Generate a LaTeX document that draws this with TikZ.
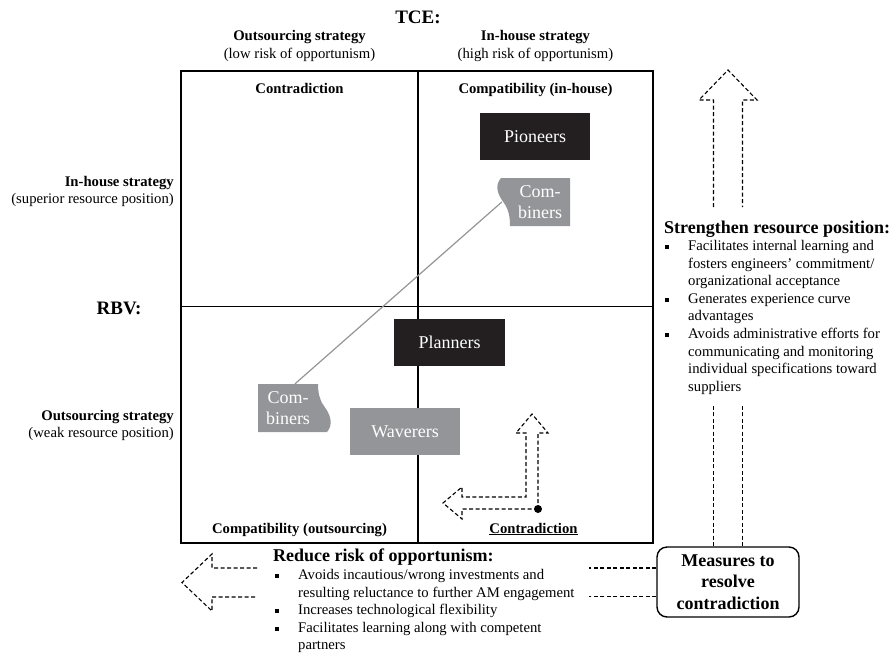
\documentclass[tikz,border=0pt]{standalone}
\usepackage{fontspec}
\setmainfont{Liberation Serif}
\usetikzlibrary{positioning}
\definecolor{boxblack}{HTML}{231F20}
\definecolor{boxgrey}{HTML}{939598}
\newcommand{\bul}{\llap{\rule[1.5pt]{4pt}{4pt}\hspace{19pt}}}
\tikzset{%
  % Specifications for style of nodes:
          txt/.style = {font=\fontsize{14.7}{17.6}\selectfont, inner sep=0pt,
                        align=center},
         txtb/.style = {txt, font=\fontsize{14.7}{17.6}\selectfont\bfseries},
       theory/.style = {inner sep=0pt, font=\fontsize{19}{22}\selectfont\bfseries},
      heading/.style = {inner sep=0pt, anchor=west,
                        font=\fontsize{18}{21.6}\selectfont\bfseries},
      bullets/.style = {txt, align=left, anchor=north west},
     adopters/.style = {minimum width=110pt, minimum height=47pt, inner sep=0pt,
                        text=white, font=\fontsize{18}{21.6}\selectfont},
      pioneer/.style = {adopters, fill=boxblack},
      waverer/.style = {adopters, fill=boxgrey},
     combiner/.style = {inner sep=0pt, text=white, align=center,
                        font=\fontsize{18}{21.6}\selectfont},
      measure/.style = {draw, rounded corners=10pt, line width=1.4pt,
                        minimum width=142pt, minimum height=70pt, align=center,
                        font=\fontsize{18}{21.6}\selectfont\bfseries},
      tipdot/.style = {circle, fill=black, inner sep=0pt, minimum size=8pt},
   matrixline/.style = {line width=1.6pt},
     dashline/.style = {dash pattern=on 4pt off 2.5pt, line width=1.1pt},
}
\begin{document}
\begin{tikzpicture}[x=1pt, y=-1pt]
  \useasboundingbox (0,0) rectangle (896,654);

  % Axes labels
  \node (tce)     [theory]              at (418,17)    {TCE:};
  \node (tceOut)  [txt]                 at (299.5,46)  {\textbf{Outsourcing strategy}\\(low risk of opportunism)};
  \node (tceIn)   [txt]                 at (535.5,46)  {\textbf{In-house strategy}\\(high risk of opportunism)};
  \node (rbv)     [theory]              at (119,308)   {RBV:};
  \node (rbvIn)   [txt, align=right, anchor=east] at (174,191.5) {\textbf{In-house strategy}\\(superior resource position)};
  \node (rbvOut)  [txt, align=right, anchor=east] at (174,425.5) {\textbf{Outsourcing strategy}\\(weak resource position)};

  % Matrix
  \draw[matrixline] (181,71) rectangle (653,543);
  \draw[matrixline] (418,71) -- (418,543);
  \draw[matrixline] (181,306.5) -- (653,306.5);

  \node (contraTop)  [txtb, anchor=base] at (299.5,93)  {Contradiction};
  \node (compIn)     [txtb, anchor=base] at (535.5,93)  {Compatibility (in-house)};
  \node (compOut)    [txtb, anchor=base] at (299.5,533) {Compatibility (outsourcing)};
  \node (contraBot)  [txtb, anchor=base] at (533.5,533) {\underline{Contradiction}};

  % Specification of adopter groups
  \node (pioneers) [pioneer] at (535,136.5)   {Pioneers};
  \node (planners) [pioneer, minimum width=111pt] at (449.5,342.5) {Planners};
  \node (waverers) [waverer] at (405,431.5)   {Waverers};

  \node (combUp)  [combiner, minimum width=60pt, minimum height=48pt] at (540,202) {};
  \node (combLow) [combiner, minimum width=60pt, minimum height=48pt] at (288,408) {};
  \draw[boxgrey, line width=1.2pt] ([xshift=-8pt]combUp.west) -- ([xshift=7pt]combLow.north);
  \fill[boxgrey] (570,178) -- (501,178) .. controls (494,186) and (498,195) .. (504,203)
                 .. controls (509,210) and (510,218) .. (510,226) -- (570,226) -- cycle;
  \fill[boxgrey] (258,384) -- (318,384) .. controls (318,392) and (319,399) .. (324,406)
                 .. controls (330,414) and (334,424) .. (327,432) -- (258,432) -- cycle;
  \node [combiner] at (combUp.center)  {Com-\\biners};
  \node [combiner] at (combLow.center) {Com-\\biners};

  % Small arrows out of the contradiction
  \node (start) [tipdot] at (538,509) {};
  \draw[dashline] (start.center) -- (462,509) -- (462,519) -- (443,503) -- (462,487)
                  -- (462,497) -- (526,497) -- (526,433) -- (516,433) -- (532,414)
                  -- (548,433) -- (538,433) -- cycle;

  % Measures and their arrows
  \node (measures) [measure] at (728,582) {Measures to\\resolve\\contradiction};

  \draw[dashline] ([xshift=-14.5pt]measures.north) -- ++(0,-141);
  \draw[dashline] ([xshift=14.5pt]measures.north) -- ++(0,-141);
  \draw[dashline] (713.5,207) -- (713.5,100) -- (699,100) -- (728,70) -- (757,100)
                  -- (742.5,100) -- (742.5,207);

  \draw[dashline] ([yshift=14pt]measures.west) -- ++(-67,0);
  \draw[dashline] ([yshift=-14.5pt]measures.west) -- ++(-67,0);
  \draw[dashline] (257,568) -- (212,568) -- (212,554) -- (182,582.5) -- (212,611)
                  -- (212,597) -- (257,597);

  % Descriptions of the measures
  \node (strengthHead) [heading] at (664,229) {Strengthen resource position:};
  \node (strengthList) [bullets] at (688,240)
        {\bul Facilitates internal learning and\\ fosters engineers' commitment/\\
         organizational acceptance\\ \bul Generates experience curve\\ advantages\\
         \bul Avoids administrative efforts for\\ communicating and monitoring\\
         individual specifications toward\\ suppliers};

  \node (reduceHead) [heading] at (273,557) {Reduce risk of opportunism:};
  \node (reduceList) [bullets] at (298,569)
        {\bul Avoids incautious/wrong investments and\\
         resulting reluctance to further AM engagement\\
         \bul Increases technological flexibility\\
         \bul Facilitates learning along with competent\\ partners};
\end{tikzpicture}
\end{document}
